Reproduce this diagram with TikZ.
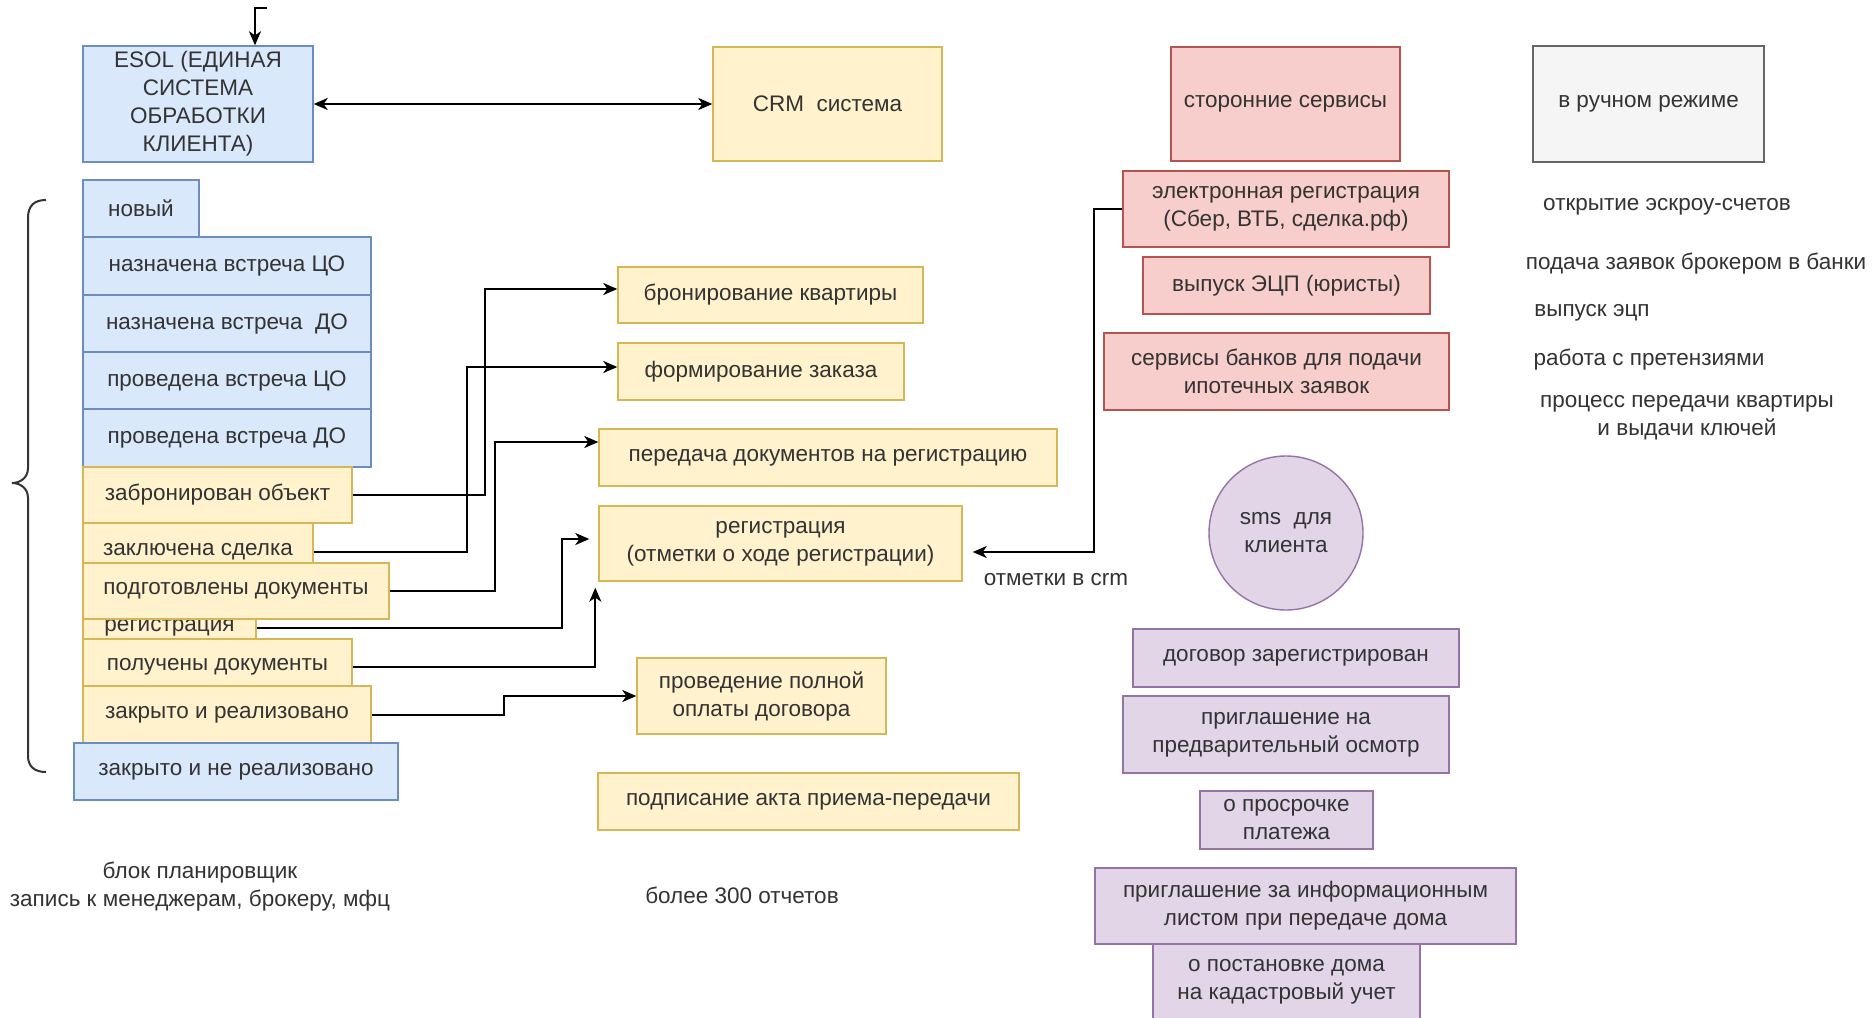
\documentclass[tikz,border=0pt]{standalone}
\usepackage{fontspec}
\setmainfont{Liberation Sans}
\usetikzlibrary{arrows.meta,calc}
\definecolor{bfill}{HTML}{DAE8FC}
\definecolor{bdraw}{HTML}{6C8EBF}
\definecolor{yfill}{HTML}{FFF2CC}
\definecolor{ydraw}{HTML}{D6B656}
\definecolor{rfill}{HTML}{F8CECC}
\definecolor{rdraw}{HTML}{B85450}
\definecolor{gfill}{HTML}{F5F5F5}
\definecolor{gdraw}{HTML}{666666}
\definecolor{pfill}{HTML}{E1D5E7}
\definecolor{pdraw}{HTML}{9673A6}
\definecolor{txt}{HTML}{333333}
\newcommand\fs{\fontsize{22.5}{28}\selectfont}
\begin{document}
\begin{tikzpicture}[x=1pt,y=-1pt,
  base/.style={rectangle, draw, line width=1.4pt, inner sep=0pt, align=center, font=\fs, text=txt},
  bluebox/.style={base, fill=bfill, draw=bdraw},
  yelbox/.style={base, fill=yfill, draw=ydraw},
  redbox/.style={base, fill=rfill, draw=rdraw},
  graybox/.style={base, fill=gfill, draw=gdraw},
  purbox/.style={base, fill=pfill, draw=pdraw},
  free/.style={font=\fs, text=txt, align=center, inner sep=0pt},
  arr/.style={draw=black, line width=2pt, -{Stealth[length=14pt,width=12pt,inset=4pt]}},
  arrtwo/.style={draw=black, line width=2pt, {Stealth[length=14pt,width=12pt,inset=4pt]}-{Stealth[length=14pt,width=12pt,inset=4pt]}},
  bracestyle/.style={draw=txt, line width=2pt}
]
\useasboundingbox[fill=white] (0,0) rectangle (1873,1017);

% top row
\node[bluebox, minimum width=230, minimum height=116] (esol) at (198,104) {ESOL (ЕДИНАЯ\\СИСТЕМА\\ОБРАБОТКИ\\КЛИЕНТА)};
\node[yelbox, minimum width=229, minimum height=114] (crm) at (827.5,104) {CRM~~система};
\node[redbox, minimum width=229, minimum height=114] (ext) at (1285.5,104) {сторонние сервисы};
\node[graybox, minimum width=231, minimum height=116] (man) at (1648.5,104) {в ручном режиме};

% left column
\node[bluebox, minimum width=116, minimum height=57] (nov) at (141,208.5) {новый};
\node[bluebox, minimum width=288, minimum height=58] (nco) at (227,266) {назначена встреча ЦО};
\node[bluebox, minimum width=288, minimum height=57] (ndo) at (227,323.5) {назначена встреча~~ДО};
\node[bluebox, minimum width=288, minimum height=57] (pco) at (227,380.5) {проведена встреча ЦО};
\node[bluebox, minimum width=288, minimum height=58] (pdo) at (227,438) {проведена встреча ДО};
\node[yelbox, minimum width=269, minimum height=56] (zab) at (217.5,495) {забронирован объект};
\node[yelbox, minimum width=230, minimum height=58] (zak) at (198,552) {заключена сделка};
\node[yelbox, minimum width=173, minimum height=56] (regl) at (169.5,628) {регистрация};
\node[yelbox, minimum width=306, minimum height=56] (podg) at (236,591) {подготовлены документы};
\node[yelbox, minimum width=269, minimum height=56] (pol) at (217.5,667) {получены документы};
\node[yelbox, minimum width=288, minimum height=57] (zr) at (227,714.5) {закрыто и реализовано};
\node[bluebox, minimum width=324, minimum height=57] (znr) at (236,771.5) {закрыто и не реализовано};

% brace
\draw[bracestyle] (46,200) .. controls (34,200) and (28,206) .. (28,218) -- (28,468)
  .. controls (28,478) and (20,483) .. (12,483) .. controls (20,483) and (28,488) .. (28,498)
  -- (28,756) .. controls (28,766) and (34,772) .. (46,772);

% middle column
\node[yelbox, minimum width=305, minimum height=56] (bron) at (770.5,295) {бронирование квартиры};
\node[yelbox, minimum width=286, minimum height=57] (form) at (761,371.5) {формирование заказа};
\node[yelbox, minimum width=458, minimum height=57] (pered) at (828,457.5) {передача документов на регистрацию};
\node[yelbox, minimum width=363, minimum height=75] (regbox) at (780.5,543.5) {регистрация\\(отметки о ходе регистрации)};
\node[yelbox, minimum width=249, minimum height=76] (opl) at (761.5,696) {проведение полной\\оплаты договора};
\node[yelbox, minimum width=421, minimum height=57] (akt) at (808.5,801.5) {подписание акта приема-передачи};

% red column
\node[redbox, minimum width=326, minimum height=76] (el) at (1286,209) {электронная регистрация\\(Сбер, ВТБ, сделка.рф)};
\node[redbox, minimum width=287, minimum height=57] (ecp) at (1286.5,285.5) {выпуск ЭЦП (юристы)};
\node[redbox, minimum width=345, minimum height=77] (bank) at (1276.5,371.5) {сервисы банков для подачи\\ипотечных заявок};

% purple column
\node[circle, draw=pdraw, fill=pfill, line width=1.4pt, minimum size=154, inner sep=0pt, align=center, font=\fs, text=txt] (sms) at (1286,533) {sms~~для\\клиента};
\node[purbox, minimum width=326, minimum height=58] (dog) at (1296,658) {договор зарегистрирован};
\node[purbox, minimum width=326, minimum height=77] (osm) at (1286,734.5) {приглашение на\\предварительный осмотр};
\node[purbox, minimum width=173, minimum height=58] (prosr) at (1286.5,820) {о просрочке\\платежа};
\node[purbox, minimum width=421, minimum height=76] (info) at (1305.5,906) {приглашение за информационным\\листом при передаче дома};
\node[purbox, minimum width=267, minimum height=76] (kad) at (1286.5,982) {о постановке дома\\на кадастровый учет};

% free texts
\node[free] (crmnote) at (1056,580) {отметки в crm};
\node[free] (plan) at (200,887) {блок планировщик\\запись к менеджерам, брокеру, мфц};
\node[free] (otch) at (742,895) {более 300 отчетов};
\node[free] (m1) at (1667,207) {открытие эскроу-счетов};
\node[free] (m2) at (1696,264) {подача заявок брокером в банки};
\node[free] (m3) at (1592,313) {выпуск эцп};
\node[free] (m4) at (1649,360) {работа с претензиями};
\node[free] (m5) at (1687,418) {процесс передачи квартиры\\и выдачи ключей};

% connectors
\coordinate (topin) at (267,8);
\draw[arr] (topin) -| ([xshift=57pt]esol.north);
\draw[arrtwo] (esol.east) -- (crm.west);
\draw[arr] (zab.east) -- ++(132,0) |- ([yshift=6pt]bron.west);
\draw[arr] (zak.east) -- ++(153,0) |- ([yshift=4.5pt]form.west);
\draw[arr] (podg.east) -- ++(105,0) |- ([yshift=15.5pt]pered.west);
\draw[arr] (regl.east) -- ++(305,0) |- ([xshift=-9pt,yshift=4.5pt]regbox.west);
\draw[arr] (pol.east) -| ([xshift=-3pt,yshift=-6pt]regbox.south west);
\draw[arr] (zr.east) -- ++(132,0) |- (opl.west);
\draw[arr] (el.west) -- ++(-28,0) |- ([xshift=10pt,yshift=-8.5pt]regbox.east);
\end{tikzpicture}
\end{document}
